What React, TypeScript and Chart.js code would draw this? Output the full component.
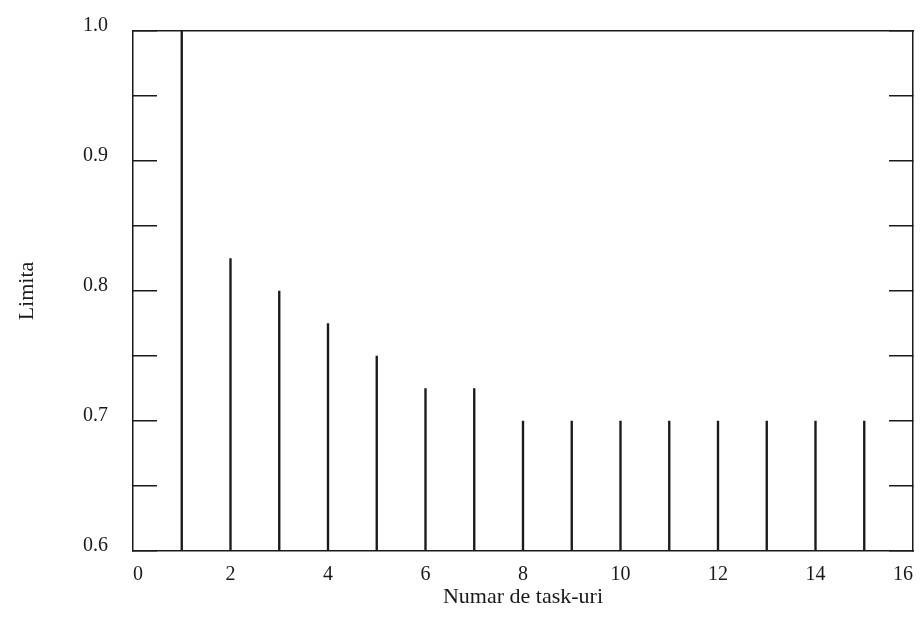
import { useEffect, useRef } from "react";
import { Chart, registerables } from "chart.js";

Chart.register(...registerables);

const taskCounts = [1, 2, 3, 4, 5, 6, 7, 8, 9, 10, 11, 12, 13, 14, 15];
const limitValues = [1.0, 0.825, 0.8, 0.775, 0.75, 0.725, 0.725, 0.7, 0.7, 0.7, 0.7, 0.7, 0.7, 0.7, 0.7];
const xTickValues = [0, 2, 4, 6, 8, 10, 12, 14, 16];
const yTickValues = [0.6, 0.65, 0.7, 0.75, 0.8, 0.85, 0.9, 0.95, 1.0];
const yLabelValues = [0.6, 0.7, 0.8, 0.9, 1.0];

const xTitle = "Numar de task-uri";
const yTitle = "Limita";

const INK = "#1a1a1a";
const FONT = "'Liberation Serif', 'Times New Roman', serif";

export default function App() {
  const ref = useRef<HTMLCanvasElement | null>(null);

  useEffect(() => {
    const canvas = ref.current;
    if (!canvas) return;
    const tickFont = { family: FONT, size: 20 };
    const titleFont = { family: FONT, size: 22 };
    const chart = new Chart(canvas, {
      type: "bar",
      data: {
        datasets: [
          {
            data: taskCounts.map((x, i) => ({ x, y: limitValues[i] })),
            backgroundColor: INK,
            borderWidth: 0,
            barThickness: 1.7,
            xAxisID: "x",
            yAxisID: "y",
          },
        ],
      },
      options: {
        animation: false,
        responsive: false,
        devicePixelRatio: 1,
        layout: { padding: 0 },
        plugins: { legend: { display: false }, tooltip: { enabled: false } },
        scales: {
          x: {
            type: "linear",
            position: "bottom",
            offset: false,
            min: 0,
            max: 16,
            afterBuildTicks: (s: any) => {
              s.ticks = xTickValues.map((value) => ({ value }));
            },
            ticks: {
              font: tickFont,
              color: INK,
              padding: 12,
              align: "inner",
              maxRotation: 0,
              autoSkip: false,
              callback: (v: any) => String(v),
            },
            grid: { display: false, drawTicks: false, offset: false },
            border: { display: true, color: INK, width: 1.5 },
            title: {
              display: true,
              text: xTitle,
              font: titleFont,
              color: INK,
              padding: { top: 0, bottom: 24 },
            },
            afterFit: (s: any) => {
              s.height = 83;
              s.paddingLeft = 0;
              s.paddingRight = 0;
            },
          },
          x2: {
            type: "linear",
            position: "top",
            offset: false,
            min: 0,
            max: 16,
            ticks: { display: false },
            grid: { display: false, drawTicks: false, offset: false },
            border: { display: true, color: INK, width: 1.5 },
            afterFit: (s: any) => {
              s.height = 31;
              s.paddingLeft = 0;
              s.paddingRight = 0;
            },
          },
          y: {
            type: "linear",
            position: "left",
            min: 0.6,
            max: 1.0,
            afterBuildTicks: (s: any) => {
              s.ticks = yTickValues.map((value) => ({ value }));
            },
            ticks: {
              font: tickFont,
              color: INK,
              padding: 49,
              labelOffset: -5,
              autoSkip: false,
              callback: (v: any) => {
                const n = Number(v);
                return yLabelValues.some((l) => Math.abs(l - n) < 1e-6) ? n.toFixed(1) : "";
              },
            },
            grid: { drawOnChartArea: false, drawTicks: true, tickLength: -24, color: INK, lineWidth: 1.5 },
            border: { display: true, color: INK, width: 1.5 },
            title: {
              display: true,
              text: yTitle,
              font: titleFont,
              color: INK,
              padding: { top: 14, bottom: 0 },
            },
            afterFit: (s: any) => {
              s.width = 133;
              s.paddingTop = 0;
              s.paddingBottom = 0;
            },
          },
          y2: {
            type: "linear",
            position: "right",
            min: 0.6,
            max: 1.0,
            afterBuildTicks: (s: any) => {
              s.ticks = yTickValues.map((value) => ({ value }));
            },
            ticks: { display: false },
            grid: { drawOnChartArea: false, drawTicks: true, tickLength: -24, color: INK, lineWidth: 1.5 },
            border: { display: true, color: INK, width: 1.5 },
            afterFit: (s: any) => {
              s.width = 7;
              s.paddingTop = 0;
              s.paddingBottom = 0;
            },
          },
        },
      },
    } as any);
    return () => chart.destroy();
  }, []);

  return (
    <div style={{ position: "absolute", left: 0, top: 0, width: 920, height: 634, background: "#fff" }}>
      <canvas ref={ref} width={920} height={634} style={{ display: "block", width: 920, height: 634 }} />
    </div>
  );
}
